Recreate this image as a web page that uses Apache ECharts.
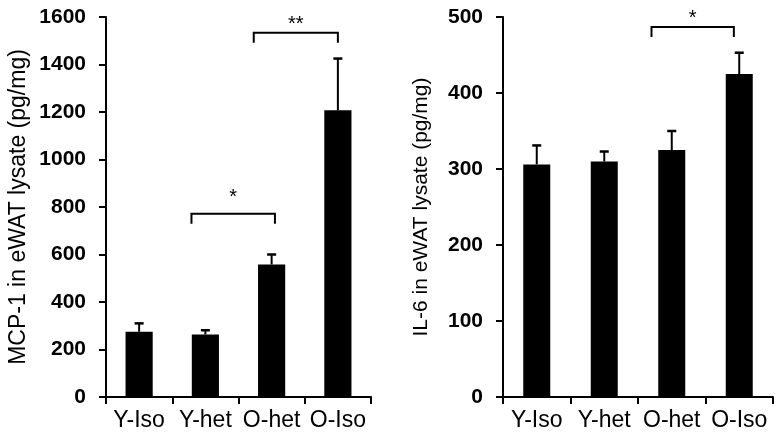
<!DOCTYPE html>
<html>
<head>
<meta charset="utf-8">
<script src="https://cdn.jsdelivr.net/npm/echarts@6/dist/echarts.min.js"></script>
<style>
  html, body { margin: 0; padding: 0; background: #fff; }
  #main { width: 780px; height: 437px; }
</style>
</head>
<body>
<div id="main"></div>
<script>
// groups
const categories = ['Y-Iso', 'Y-het', 'O-het', 'O-Iso'];

// MCP-1 (pg/mg), mean and SEM
const mcp1Mean = [275, 263, 558, 1207];
const mcp1Err = [35, 18, 42, 218];
const mcp1Ticks = [0, 1600, 200];

// IL-6 (pg/mg), mean and SEM
const il6Mean = [306, 310, 325, 425];
const il6Err = [25, 13, 25, 28];
const il6Ticks = [0, 500, 100];

// significance brackets: [left group, right group, bracket value, star value, text]
const mcp1Sig = [
  [1, 2, 772, 842, '*'],
  [2, 3, 1534, 1568, '**']
];
const il6Sig = [
  [2, 3, 487, 498, '*']
];
// where the bracket legs sit, in bar-band units from the bar centre
const mcp1Shift = [[-0.21, 0.05], [-0.27, 0]];
const il6Shift = [[-0.3, -0.08]];

const FONT = 'Liberation Sans, Arial, sans-serif';

let myChart = echarts.init(document.getElementById('main'));

function errorItem(params, api) {
  let base = api.coord([api.value(0), api.value(1)]);
  let top = api.coord([api.value(0), api.value(1) + api.value(2)]);
  return {
    type: 'group',
    children: [
      {type: 'line', shape: {x1: base[0], y1: base[1], x2: base[0], y2: top[1]},
        style: {stroke: '#000', lineWidth: 2}},
      {type: 'line', shape: {x1: base[0] - 4.5, y1: top[1], x2: base[0] + 4.5, y2: top[1]},
        style: {stroke: '#000', lineWidth: 2.5}}
    ]
  };
}

function bracketRenderer(sig, shift) {
  return function (params, api) {
    let s = sig[params.dataIndex];
    let sh = shift[params.dataIndex];
    let band = api.size([1, 0])[0];
    let a = api.coord([s[0], s[2]]);
    let b = api.coord([s[1], s[2]]);
    let x1 = a[0] + sh[0] * band;
    let x2 = b[0] + sh[1] * band;
    let y = a[1];
    let ty = api.coord([s[0], s[3]])[1];
    return {
      type: 'group',
      children: [
        {type: 'polyline', shape: {points: [[x1, y + 10], [x1, y], [x2, y], [x2, y + 10]]},
          style: {stroke: '#000', lineWidth: 2, fill: null}},
        {type: 'text', style: {x: (x1 + x2) / 2, y: ty, text: s[4], align: 'center',
          verticalAlign: 'middle', fontSize: 20, fontFamily: FONT, fill: '#000'}}
      ]
    };
  };
}

function xAxisOf(gi) {
  return {
    type: 'category',
    gridIndex: gi,
    data: categories,
    axisLine: {lineStyle: {color: '#000', width: 2}},
    axisTick: {show: true, length: 7, lineStyle: {color: '#000', width: 2}},
    axisLabel: {color: '#000', fontSize: 23, fontFamily: FONT, margin: 12,
      interval: 0, hideOverlap: false}
  };
}

function yAxisOf(gi, ticks, name, size, gap) {
  return {
    type: 'value',
    gridIndex: gi,
    min: ticks[0],
    max: ticks[1],
    interval: ticks[2],
    name: name,
    nameLocation: 'middle',
    nameGap: gap,
    nameTextStyle: {color: '#000', fontSize: size, fontFamily: FONT},
    axisLine: {show: true, lineStyle: {color: '#000', width: 2}},
    axisTick: {show: true, length: 7, lineStyle: {color: '#000', width: 2}},
    axisLabel: {color: '#000', fontSize: 21, fontWeight: 'bold', fontFamily: FONT, margin: 20,
      formatter: v => String(v)},
    splitLine: {show: false}
  };
}

myChart.setOption({
  animation: false,
  grid: [
    {left: 106, right: 409, top: 17, bottom: 40},
    {left: 503, right: 7, top: 17, bottom: 40}
  ],
  xAxis: [xAxisOf(0), xAxisOf(1)],
  yAxis: [
    yAxisOf(0, mcp1Ticks, 'MCP-1 in eWAT lysate (pg/mg)', 23, 76),
    yAxisOf(1, il6Ticks, 'IL-6 in eWAT lysate (pg/mg)', 21, 71)
  ],
  series: [
    {type: 'bar', xAxisIndex: 0, yAxisIndex: 0, data: mcp1Mean, barWidth: '41%',
      itemStyle: {color: '#000'}},
    {type: 'custom', xAxisIndex: 0, yAxisIndex: 0, renderItem: errorItem,
      encode: {x: 0, y: 1}, data: mcp1Mean.map((v, i) => [i, v, mcp1Err[i]]), z: 3},
    {type: 'custom', xAxisIndex: 0, yAxisIndex: 0, renderItem: bracketRenderer(mcp1Sig, mcp1Shift),
      encode: {x: 0, y: 1}, data: mcp1Sig.map(s => [s[0], s[2]]), clip: false},
    {type: 'bar', xAxisIndex: 1, yAxisIndex: 1, data: il6Mean, barWidth: '40%',
      itemStyle: {color: '#000'}},
    {type: 'custom', xAxisIndex: 1, yAxisIndex: 1, renderItem: errorItem,
      encode: {x: 0, y: 1}, data: il6Mean.map((v, i) => [i, v, il6Err[i]]), z: 3},
    {type: 'custom', xAxisIndex: 1, yAxisIndex: 1, renderItem: bracketRenderer(il6Sig, il6Shift),
      encode: {x: 0, y: 1}, data: il6Sig.map(s => [s[0], s[2]]), clip: false}
  ]
});
</script>
</body>
</html>
